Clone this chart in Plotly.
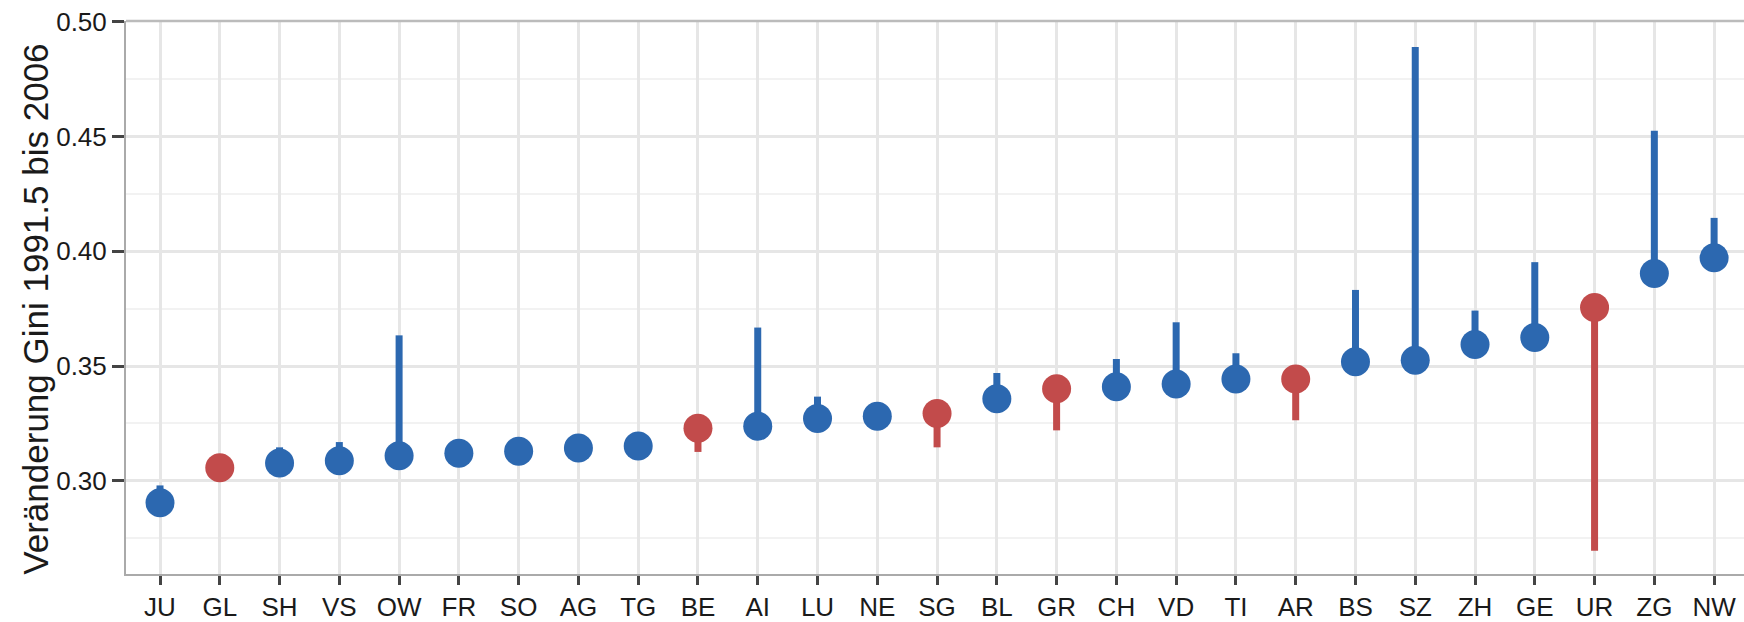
import plotly.graph_objects as go

cantons = ["JU", "GL", "SH", "VS", "OW", "FR", "SO", "AG", "TG", "BE", "AI", "LU", "NE", "SG",
           "BL", "GR", "CH", "VD", "TI", "AR", "BS", "SZ", "ZH", "GE", "UR", "ZG", "NW"]
gini_start = [0.2905, 0.3057, 0.3078, 0.3088, 0.3109, 0.3120, 0.3129, 0.3143, 0.3152, 0.3229,
              0.3238, 0.3272, 0.3281, 0.3293, 0.3358, 0.3401, 0.3410, 0.3422, 0.3444, 0.3444,
              0.3519, 0.3525, 0.3594, 0.3625, 0.3755, 0.3904, 0.3972]
gini_end = [0.2980, 0.3040, 0.3146, 0.3169, 0.3634, 0.3125, 0.3132, 0.3146, 0.3158, 0.3126,
            0.3668, 0.3367, 0.3284, 0.3146, 0.3470, 0.3220, 0.3531, 0.3691, 0.3556, 0.3264,
            0.3832, 0.4891, 0.3742, 0.3953, 0.2695, 0.4526, 0.4146]

BLUE = "#2C68B0"
RED = "#C24B4B"
FONT = "Liberation Sans, Arial, sans-serif"

fig = go.Figure()

for color, sel in [(BLUE, lambda a, b: b >= a), (RED, lambda a, b: b < a)]:
    xs, ys = [], []
    for c, a, b in zip(cantons, gini_start, gini_end):
        if sel(a, b):
            xs += [c, c, None]
            ys += [a, b, None]
    fig.add_trace(go.Scatter(x=xs, y=ys, mode="lines",
                             line=dict(color=color, width=7), showlegend=False,
                             hoverinfo="skip"))

colors = [BLUE if b >= a else RED for a, b in zip(gini_start, gini_end)]
fig.add_trace(go.Scatter(x=cantons, y=gini_start, mode="markers",
                         marker=dict(color=colors, size=29, line=dict(width=0)),
                         showlegend=False))

fig.update_layout(
    width=1744, height=622,
    margin=dict(l=126, r=0, t=21, b=48, autoexpand=False),
    plot_bgcolor="white", paper_bgcolor="white",
    font=dict(family=FONT, size=26, color="#1a1a1a"),
    xaxis=dict(
        type="category", categoryorder="array", categoryarray=cantons,
        range=[-0.569, 26.5], automargin=False,
        showgrid=True, gridcolor="#E6E6E6", gridwidth=2.5,
        showline=True, linecolor="#AAAAAA", linewidth=2,
        ticks="outside", ticklen=9, tickwidth=2.5, tickcolor="#444444",
        tickfont=dict(family=FONT, size=26, color="#1a1a1a"),
        zeroline=False,
    ),
    yaxis=dict(
        range=[0.2594, 0.5004], automargin=False,
        tickvals=[0.30, 0.35, 0.40, 0.45, 0.50],
        ticktext=["0.30", "0.35", "0.40", "0.45", "0.50"],
        showgrid=True, gridcolor="#E6E6E6", gridwidth=2.5,
        minor=dict(dtick=0.025, tick0=0.275, showgrid=True, gridcolor="#F2F2F2", gridwidth=1.5),
        showline=True, linecolor="#AAAAAA", linewidth=2,
        ticks="outside", ticklen=12, tickwidth=2.5, tickcolor="#444444",
        tickfont=dict(family=FONT, size=26, color="#1a1a1a"),
        zeroline=False,
    ),
    shapes=[dict(type="line", xref="paper", yref="paper", x0=0, x1=1, y0=1, y1=1,
                 line=dict(color="#BBBBBB", width=2.5))],
    annotations=[dict(text="Veränderung Gini 1991.5 bis 2006", textangle=-90,
                      xref="paper", yref="paper", x=(36 - 126) / 1618, y=0.478,
                      xanchor="center", yanchor="middle", showarrow=False,
                      font=dict(family=FONT, size=35, color="#1a1a1a"))],
)

fig.write_html("out.html", config={"displayModeBar": False},
               post_script="document.body.style.margin='0';document.body.style.overflow='hidden';")
